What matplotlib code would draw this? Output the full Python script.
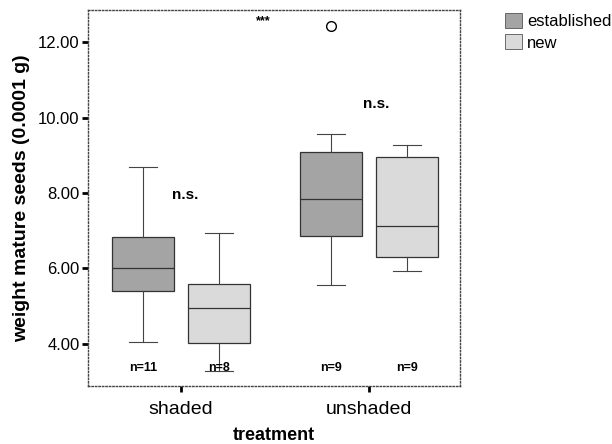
import matplotlib
matplotlib.use("Agg")
import matplotlib.pyplot as plt
from matplotlib.patches import Patch

# box statistics
groups = ["shaded", "unshaded"]
series = ["established", "new"]
whislo = [[4.06, 5.56], [3.27, 5.93]]
q1 = [[5.39, 6.87], [4.03, 6.31]]
med = [[6.00, 7.84], [4.94, 7.11]]
q3 = [[6.82, 9.08], [5.58, 8.94]]
whishi = [[8.68, 9.55], [6.94, 9.28]]
fliers = [[[], [12.42]], [[], []]]
n_labels = [["n=11", "n=9"], ["n=8", "n=9"]]
colors = ["#a4a4a4", "#dadada"]

plt.rcParams['font.family'] = ['Liberation Sans', 'DejaVu Sans']

fig = plt.figure(figsize=(6.12, 4.44), dpi=100)
ax = fig.add_axes([0.1438, 0.1306, 0.6078, 0.8468])

offsets = [-0.202, 0.202]
for s in range(2):
    stats = []
    for g in range(2):
        stats.append(dict(med=med[s][g], q1=q1[s][g], q3=q3[s][g],
                          whislo=whislo[s][g], whishi=whishi[s][g],
                          fliers=fliers[s][g]))
    pos = [g + offsets[s] for g in range(2)]
    ax.bxp(stats, positions=pos, widths=0.33, capwidths=0.145,
           patch_artist=True, manage_ticks=False,
           boxprops=dict(facecolor=colors[s], edgecolor="#333333", linewidth=0.9),
           medianprops=dict(color="#333333", linewidth=0.9),
           whiskerprops=dict(color="#444444", linewidth=0.8),
           capprops=dict(color="#444444", linewidth=0.8),
           flierprops=dict(marker="o", markerfacecolor="white",
                           markeredgecolor="black", markersize=7))
    for g in range(2):
        ax.text(g + offsets[s], 3.35, n_labels[s][g], ha="center", va="center",
                fontsize=9, fontweight="bold")

ax.text(0.02, 7.95, "n.s.", ha="center", va="center", fontsize=11, fontweight="bold")
ax.text(1.04, 10.35, "n.s.", ha="center", va="center", fontsize=11, fontweight="bold")
ax.text(0.44, 12.55, "***", ha="center", va="center", fontsize=9, fontweight="bold")

ax.set_xlim(-0.495, 1.484)
ax.set_ylim(2.88, 12.85)
ax.set_yticks([4, 6, 8, 10, 12])
ax.set_yticklabels(["4.00", "6.00", "8.00", "10.00", "12.00"], fontsize=12)
ax.set_xticks([0, 1])
ax.set_xticklabels(groups, fontsize=14)
ax.tick_params(axis="both", direction="out", length=4, width=2, color="black")
ax.tick_params(axis="x", pad=7)
ax.tick_params(axis="y", pad=2)

for sp in ax.spines.values():
    sp.set_linestyle((0, (1, 1.5)))
    sp.set_color("#444444")
    sp.set_linewidth(1.0)

ax.set_ylabel("weight mature seeds (0.0001 g)", fontsize=14, fontweight="bold", labelpad=6)
ax.set_xlabel("treatment", fontsize=13, fontweight="bold", labelpad=6)

handles = [Patch(facecolor=colors[i], edgecolor="#555555", linewidth=0.6, label=series[i])
           for i in range(2)]
fig.legend(handles=handles, loc="upper left", bbox_to_anchor=(0.815, 0.985),
           frameon=False, fontsize=12, handlelength=1.0, handleheight=1.0,
           handletextpad=0.3, labelspacing=0.3, borderaxespad=0)

fig.savefig("out.png", dpi=100)
